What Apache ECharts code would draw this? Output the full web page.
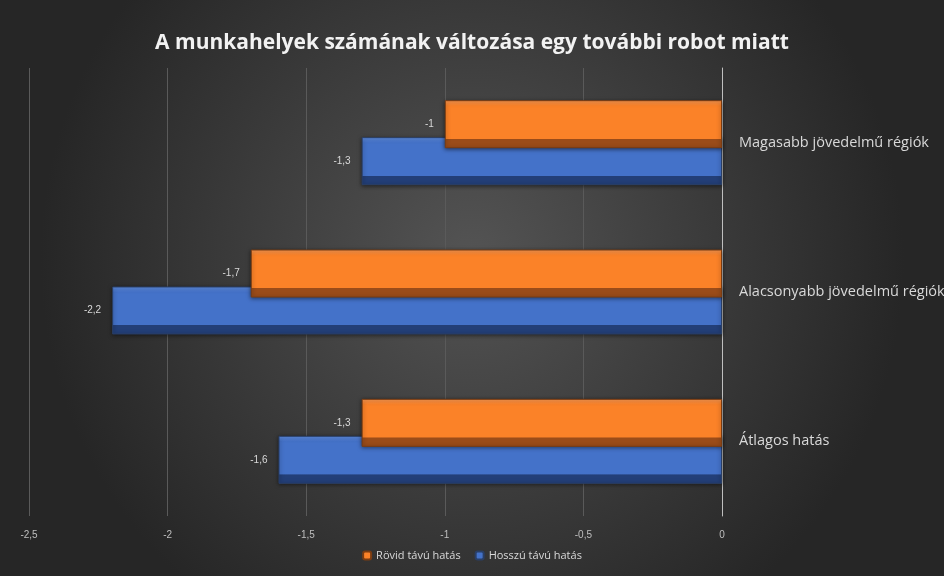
<!DOCTYPE html>
<html>
<head>
<meta charset="utf-8">
<script src="https://cdn.jsdelivr.net/npm/echarts@6/dist/echarts.min.js"></script>
<style>
  html, body { margin: 0; padding: 0; }
  #mychart { width: 944px; height: 576px; }
</style>
</head>
<body>
<div id="mychart"></div>
<script>
// 資料
let categories = ['Átlagos hatás', 'Alacsonyabb jövedelmű régiók', 'Magasabb jövedelmű régiók'];
let shortTerm = [-1.3, -1.7, -1];
let longTerm = [-1.6, -2.2, -1.3];
let xTicks = [-2.5, -2, -1.5, -1, -0.5, 0];

let colors = {
  orangeTop: '#ff9a52',
  orange: '#fb8228',
  orangeDark: '#9b4c19',
  blueTop: '#6090e6',
  blue: '#4472c9',
  blueDark: '#233f78',
  label: '#d9d9d9',
  grid: '#5a5a5a',
};

function bevel(top, main, dark) {
  return new echarts.graphic.LinearGradient(0, 0, 0, 1, [
    { offset: 0, color: top },
    { offset: 0.12, color: main },
    { offset: 0.8, color: main },
    { offset: 0.81, color: dark },
    { offset: 1, color: dark },
  ]);
}

function fmt(v) {
  return String(v).replace('.', ',');
}

let myChart = echarts.init(document.getElementById('mychart'));

let valueLabel = {
  show: true,
  position: 'left',
  distance: 11,
  color: colors.label,
  fontSize: 10,
  formatter: (p) => fmt(p.value),
};

let option = {
  backgroundColor: new echarts.graphic.RadialGradient(0.5, 0.45, 0.75, [
    { offset: 0, color: '#545454' },
    { offset: 1, color: '#262626' },
  ]),
  title: {
    text: 'A munkahelyek számának változása egy további robot miatt',
    left: 'center',
    top: 28,
    textStyle: {
      color: '#f2f2f2',
      fontSize: 21,
      fontWeight: 'bold',
      fontFamily: 'Open Sans',
    },
  },
  legend: {
    bottom: 10,
    left: 'center',
    itemWidth: 8,
    itemHeight: 8,
    itemGap: 14,
    data: [
      { name: 'Rövid távú hatás', itemStyle: { color: colors.orange } },
      { name: 'Hosszú távú hatás', itemStyle: { color: colors.blue } },
    ],
    textStyle: { color: colors.label, fontSize: 11, fontFamily: 'Open Sans' },
  },
  grid: {
    left: 29,
    right: 222,
    top: 68,
    bottom: 60,
    outerBoundsMode: 'none',
  },
  xAxis: {
    type: 'value',
    min: -2.5,
    max: 0,
    interval: 0.5,
    axisLine: { show: false },
    axisTick: { show: false },
    splitLine: { lineStyle: { color: colors.grid, width: 1 } },
    axisLabel: {
      color: '#bfbfbf',
      fontSize: 10,
      margin: 14,
      formatter: function (v) {
        return xTicks.indexOf(v) >= 0 ? fmt(v) : '';
      },
    },
  },
  yAxis: {
    type: 'category',
    position: 'right',
    data: categories,
    axisTick: { show: false },
    axisLine: { lineStyle: { color: '#bfbfbf', width: 1 } },
    axisLabel: {
      color: colors.label,
      fontSize: 14.5,
      margin: 17,
      fontFamily: 'Open Sans',
    },
  },
  series: [
    {
      name: 'Rövid távú hatás',
      type: 'bar',
      data: shortTerm,
      barWidth: 48,
      barGap: '-23%',
      z: 3,
      itemStyle: {
        color: bevel(colors.orangeTop, colors.orange, colors.orangeDark),
        borderColor: '#7a3c12',
        borderWidth: 1,
        shadowColor: 'rgba(0,0,0,0.5)',
        shadowBlur: 4,
        shadowOffsetY: 1,
      },
      label: valueLabel,
    },
    {
      name: 'Hosszú távú hatás',
      type: 'bar',
      data: longTerm,
      barWidth: 48,
      z: 2,
      itemStyle: {
        color: bevel(colors.blueTop, colors.blue, colors.blueDark),
        borderColor: '#2a3f66',
        borderWidth: 1,
        shadowColor: 'rgba(0,0,0,0.5)',
        shadowBlur: 4,
        shadowOffsetY: 1,
      },
      label: valueLabel,
    },
  ],
};

myChart.setOption(option);
</script>
</body>
</html>
